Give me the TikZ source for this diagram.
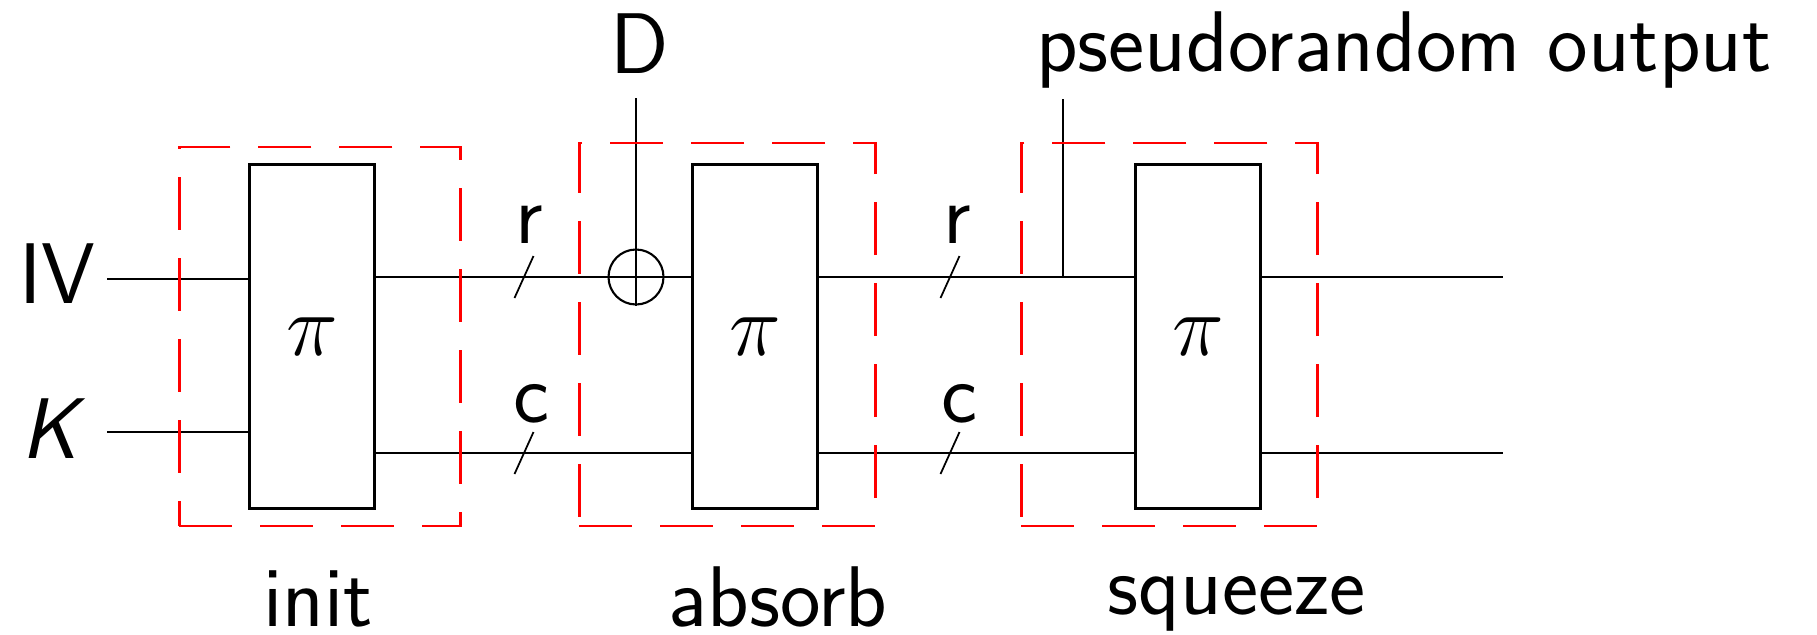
\documentclass[tikz,border=0pt]{standalone}
\usepackage{tikz}
\usetikzlibrary{positioning,calc}

\begin{document}
\begin{tikzpicture}[
    node distance=3.15cm,
    perm/.style={rectangle, draw, line width=0.9pt, minimum width=1.25cm, minimum height=3.44cm, inner sep=0pt, font=\fontsize{24.5}{29}\selectfont},
    stage/.style={rectangle, draw=red, line width=0.8pt, dash pattern=on 0.53cm off 0.28cm, inner sep=0pt},
    wire/.style={line width=0.8pt},
    lbl/.style={font=\sffamily\fontsize{24.5}{29}\selectfont, inner sep=0pt, anchor=base},
    xorgate/.style={circle, draw, line width=0.6pt, minimum size=0.55cm, inner sep=0pt},
    slash/.style={line width=0.5pt}
]
    \useasboundingbox (0,0) rectangle (18.17,6.34);

    % permutations
    \node[perm] (p1) at (3.12,2.975) {$\pi$};
    \node[perm, right=of p1] (p2) {$\pi$};
    \node[perm, right=of p2] (p3) {$\pi$};

    % wire levels
    \coordinate (rlev) at (0,3.57);
    \coordinate (clev) at (0,1.81);
    \coordinate (ivin) at (1.07,3.55);
    \coordinate (kin) at (1.07,2.02);
    \coordinate (rout) at (15.03,3.57);
    \coordinate (cout) at (15.03,1.81);

    % inputs
    \node[lbl] (iv) at (0.575,3.31) {IV};
    \node[lbl] (key) at (0.50,1.76) {\itshape K};
    \draw[wire] (ivin) -- (p1.west |- ivin);
    \draw[wire] (kin) -- (p1.west |- kin);

    % rate and capacity wires
    \draw[wire] (p1.east |- rlev) -- (p2.west |- rlev);
    \draw[wire] (p1.east |- clev) -- (p2.west |- clev);
    \draw[wire] (p2.east |- rlev) -- (p3.west |- rlev);
    \draw[wire] (p2.east |- clev) -- (p3.west |- clev);
    \draw[wire] (p3.east |- rlev) -- (rout);
    \draw[wire] (p3.east |- clev) -- (cout);

    \foreach \x/\lev in {5.24/rlev, 5.24/clev, 9.50/rlev, 9.50/clev}
        \draw[slash] (\lev) ++(\x-0.095,-0.21) -- ++(0.19,0.42);
    \node[lbl] (r1) at (5.29,3.91) {r};
    \node[lbl] (c1) at (5.315,2.12) {c};
    \node[lbl] (r2) at (9.57,3.91) {r};
    \node[lbl] (c2) at (9.59,2.12) {c};

    % data in
    \node[xorgate] (xor) at (6.36,3.57) {};
    \coordinate (din) at (6.36,5.36);
    \draw[wire] (din) -- (xor.south);
    \node[lbl] (data) at (6.40,5.61) {D};

    % output tap
    \coordinate (prtap) at (10.63,3.57);
    \coordinate (prtop) at (10.63,5.35);
    \draw[wire] (prtop) -- (prtap);
    \node[lbl] (prout) at (14.04,5.63) {pseudorandom output};

    % phases
    \node[stage, minimum width=2.815cm, minimum height=3.79cm] (initbox) at ($(p1)+(0.08,0)$) {};
    \node[stage, minimum width=2.96cm, minimum height=3.83cm] (absorbbox) at ($(p2)+(-0.28,0.02)$) {};
    \node[stage, minimum width=2.96cm, minimum height=3.83cm] (squeezebox) at ($(p3)+(-0.29,0.02)$) {};
    \node[lbl] (initlbl) at (3.18,0.08) {init};
    \node[lbl] (absorblbl) at (7.78,0.08) {absorb};
    \node[lbl] (squeezelbl) at (12.365,0.20) {squeeze};
\end{tikzpicture}
\end{document}
